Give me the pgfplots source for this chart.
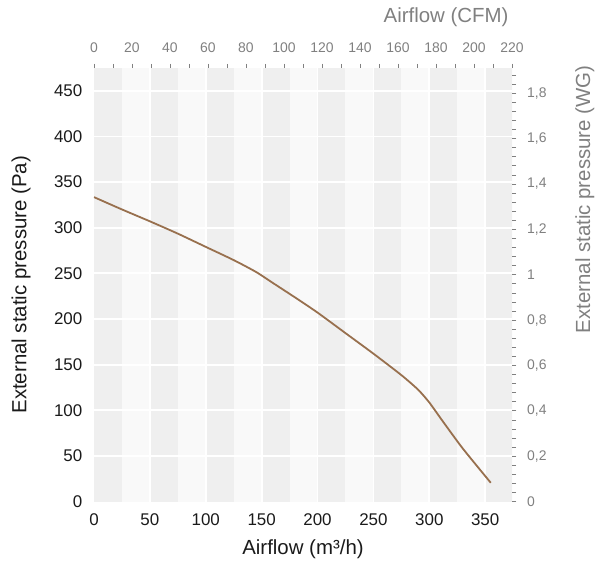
\documentclass[border=0pt]{standalone}
\usepackage{fontspec}
\setmainfont{Liberation Sans}
\usepackage{pgfplots}
\pgfplotsset{compat=1.18}
\definecolor{bandA}{HTML}{EFEFEF}
\definecolor{bandB}{HTML}{F9F9F9}
\definecolor{curve}{HTML}{98704E}
\definecolor{secgray}{HTML}{808080}
\definecolor{txt}{HTML}{1A1A1A}
\begin{document}
\begin{tikzpicture}
\begin{axis}[
  name=main,
  at={(0,0)}, anchor=south west,
  width=418bp, height=433.5bp, scale only axis,
  xmin=0, xmax=374, ymin=0, ymax=475,
  axis line style={draw=none},
  xtick={0,50,...,350}, ytick={0,50,...,450},
  tick style={draw=none},
  major tick length=0pt,
  /pgf/number format/assume math mode=true,
  ticklabel style={font=\fontsize{17}{17}\selectfont, text=txt},
  xticklabel style={anchor=base, yshift=-24bp},
  yticklabel style={anchor=east, inner xsep=0pt, xshift=-11.5bp},
]
\pgfplotsinvokeforeach{0,50,...,350}{
  \fill[bandA] (axis cs:#1,0) rectangle (axis cs:#1+25,475);
  \fill[bandB] (axis cs:#1+25,0) rectangle (axis cs:#1+50,475);
}
\pgfplotsinvokeforeach{50,100,...,350}{
  \draw[white, line width=1.8bp] (axis cs:#1,0) -- (axis cs:#1,475);
}
\pgfplotsinvokeforeach{50,100,...,450}{
  \draw[white, line width=1.8bp] (axis cs:0,#1) -- (axis cs:374,#1);
}
\addplot[curve, line width=1.8bp, smooth, tension=0.4] coordinates {
  (0,333.5) (25,320) (50,307) (75,293.5) (100,279) (125,264.5)
  (145,251.5) (160,239.5) (180,223.5) (200,207) (225,184.5)
  (250,162) (275,138.5) (290,122.5) (300,108.5) (312,88)
  (330,58) (355,20.5)
};
\end{axis}
\begin{axis}[
  name=sec,
  at={(0,0)}, anchor=south west,
  width=418bp, height=433.5bp, scale only axis,
  xmin=0, xmax=220, ymin=0, ymax=1.911,
  axis x line*=top, axis y line*=right,
  axis line style={draw=none},
  xtick={0,20,...,220}, minor xtick={0,10,...,220},
  ytick={0,0.2,0.4,0.6,0.8,1,1.2,1.4,1.6,1.8},
  minor ytick={0,0.04,...,1.9},
  tick align=outside,
  major tick length=4bp, minor tick length=4bp,
  tick style={secgray, line width=0.6bp},
  /pgf/number format/assume math mode=true,
  /pgf/number format/use comma,
  /pgf/number format/fixed,
  /pgf/number format/precision=1,
  ticklabel style={font=\fontsize{14}{14}\selectfont, text=secgray},
  xticklabel style={anchor=base, yshift=11.3bp},
  yticklabel style={anchor=west, inner xsep=0pt, xshift=11bp},
]
\addplot[draw=none] coordinates {(0,0)};
\end{axis}
\node[anchor=base, text=txt, font=\fontsize{20.5}{24}\selectfont] at ([yshift=-53bp]main.south) {Airflow (m³/h)};
\node[rotate=90, anchor=base, text=txt, font=\fontsize{20.5}{24}\selectfont] at ([xshift=-67.5bp]main.west) {External static pressure (Pa)};
\node[rotate=90, anchor=base east, text=secgray, font=\fontsize{20.5}{24}\selectfont] at ([xshift=78bp,yshift=6bp]main.north east) {External static pressure (WG)};
\node[anchor=base east, text=secgray, font=\fontsize{20.5}{24}\selectfont] at ([yshift=45bp]main.north east) {Airflow (CFM)};
\pgfresetboundingbox
\path (-94bp,-63.5bp) rectangle (504bp,501.5bp);
\end{tikzpicture}
\end{document}
